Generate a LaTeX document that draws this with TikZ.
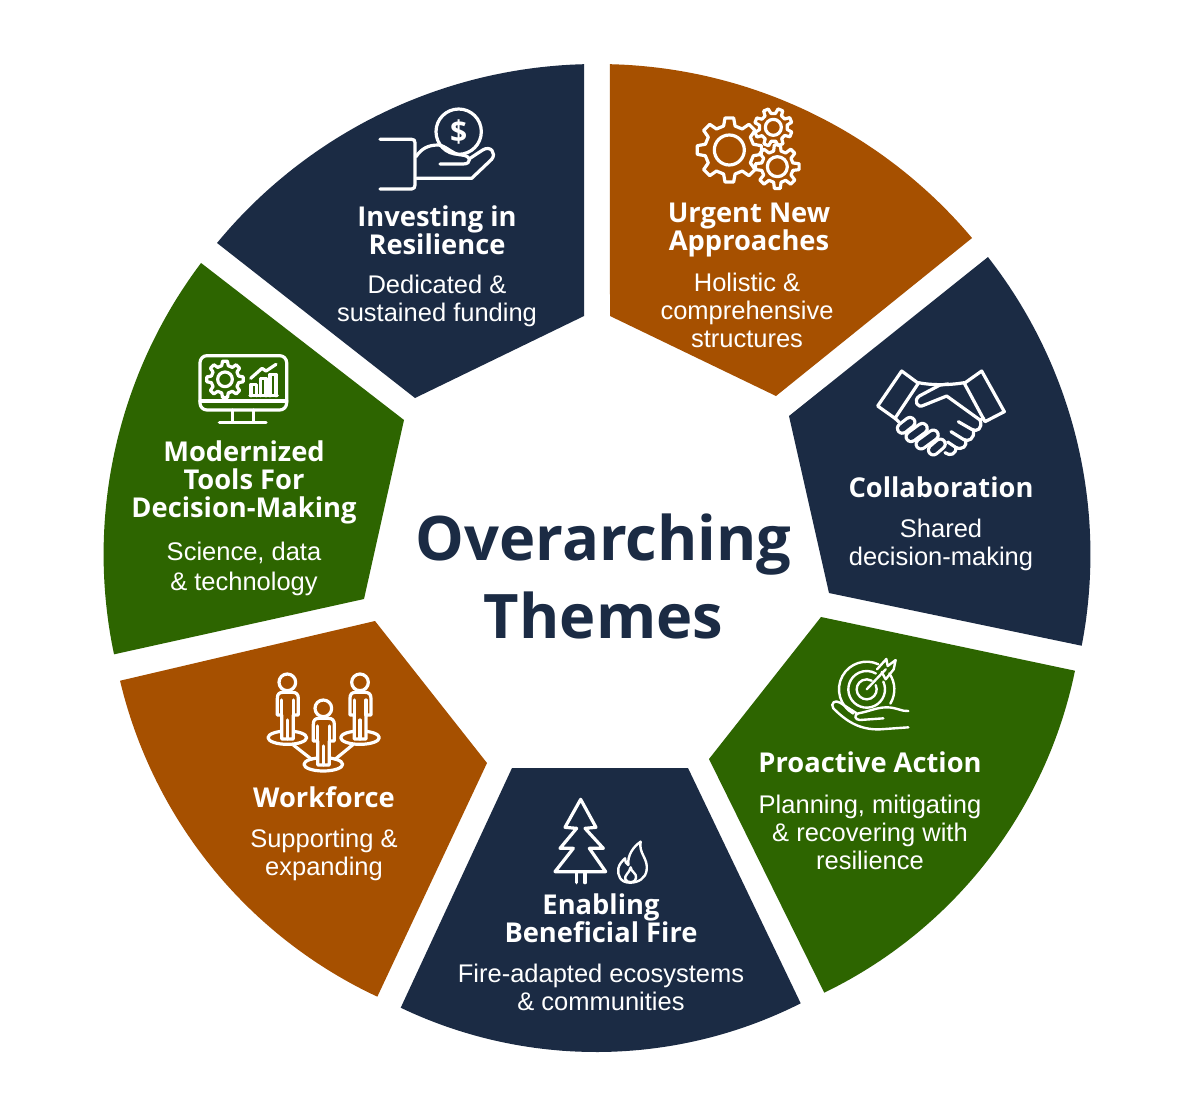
\documentclass[tikz,border=0pt]{standalone}
\usepackage{fontspec}
\setmainfont{Liberation Sans}
\newfontfamily\headfont{Open Sans}
\usetikzlibrary{calc}
\definecolor{navy}{HTML}{1B2B44}
\definecolor{rust}{HTML}{A65000}
\definecolor{leaf}{HTML}{2D6500}
\tikzset{
  icon/.style={draw=white,line width=3.2pt,line cap=round,line join=round},
  thinicon/.style={icon,line width=2.4pt},
  head/.style={text=white,align=center,inner sep=0pt,font=\headfont\bfseries\fontsize{27.3}{28}\selectfont},
  body/.style={text=white,align=center,inner sep=0pt,font=\fontsize{25.5}{28}\selectfont},
  titletext/.style={text=navy,align=center,inner sep=0pt,font=\headfont\bfseries\fontsize{61.4}{78}\selectfont}
}
% #1 colour, #2 start angle, #3 start radius, #4 end angle, #5 end radius, #6 and #7 inner corners
\newcommand{\segm}[7]{\fill[#1] plot[domain=#2:#4,samples=60,variable=\tt,shift={(c)}]
  ({\tt}:{(1-(\tt-#2)/(#4-#2))*#3+((\tt-#2)/(#4-#2))*#5+4*((\tt-#2)/(#4-#2))*(1-(\tt-#2)/(#4-#2))*(494-(#3+#5)/2)})
  -- #6 -- #7 -- cycle;}
% #1 cx, #2 cy, #3 outer r, #4 inner r, #5 teeth, #6 hole r, #7 phase
\newcommand{\gearicon}[7]{%
  \begin{scope}[shift={(#1,#2)}]
  \pgfmathsetmacro{\pp}{360/#5}
  \draw[icon] (#7-0.30*\pp:#4)
    \foreach \ii in {1,...,#5}{
      -- ({#7+(\ii-1)*\pp-0.30*\pp}:#4)
      -- ({#7+(\ii-1)*\pp-0.17*\pp}:#3)
      -- ({#7+(\ii-1)*\pp+0.17*\pp}:#3)
      -- ({#7+(\ii-1)*\pp+0.30*\pp}:#4)
    } -- cycle;
  \draw[icon] (0,0) circle[radius=#6pt];
  \end{scope}}
\newcommand{\capsule}[4]{%
  \draw[white,line width=13pt,line cap=round] (#1,#2) -- (#3,#4);
  \draw[navy,line width=6.6pt,line cap=round] (#1,#2) -- (#3,#4);}
% person: #1 dx, #2 dy (zoom units)
\newcommand{\person}[2]{%
  \begin{scope}[shift={(#1,#2)}]
  \draw[icon] (97,52) circle[radius=25pt];
  \draw[icon,fill=rust] (67,150) -- (67,100) .. controls (67,88) and (72,82) .. (84,82)
     -- (112,82) .. controls (124,82) and (130,88) .. (130,100) -- (130,150) -- (115,150)
     -- (115,222) -- (80,222) -- (80,150) -- cycle;
  \draw[icon] (80,105) -- (80,150) (115,105) -- (115,150) (97,165) -- (97,222);
  \end{scope}}
\begin{document}
\begin{tikzpicture}[x=1pt,y=1pt,yscale=-1]
\useasboundingbox (0,0) rectangle (1200,1114);
\fill[white] (0,0) rectangle (1200,1114);
\coordinate (c) at (597,558);
\segm{navy}{268.5}{494}{219.66}{493.6}{(415,398)}{(584,316)}
\segm{rust}{271.5}{494}{319.53}{493}{(776,396)}{(610,316)}
\segm{navy}{322.41}{493.4}{370.26}{492.6}{(829,593)}{(789,416)}
\segm{leaf}{13.27}{491.1}{62.4}{490.5}{(709,759)}{(821,617)}
\segm{navy}{65.42}{489.7}{113.58}{490.7}{(512,768)}{(688,768)}
\segm{rust}{116.6}{490.6}{165.57}{492.5}{(375,621)}{(487,763)}
\segm{leaf}{168.72}{492.5}{216.69}{493.8}{(404,420)}{(364,599)}

% titles and captions
\node[titletext] (title) at (603.5,576) {Overarching\\Themes};
\node[head] (h1) at (437,230) {Investing in\\Resilience};
\node[body] (b1) at (437,301) {Dedicated \&\\sustained funding};
\node[head] (h2) at (749,230) {Urgent New\\Approaches};
\node[body] (b2) at (747,310) {Holistic \&\\comprehensive\\structures};
\node[head] (h3) at (941,487) {Collaboration};
\node[body] (b3) at (941,545) {Shared\\decision-making};
\node[head] (h4) at (870,762) {Proactive Action};
\node[body] (b4) at (870,832) {Planning, mitigating\\\& recovering with\\resilience};
\node[head] (h5) at (601,918) {Enabling\\Beneficial Fire};
\node[body] (b5) at (601,987) {Fire-adapted ecosystems\\\& communities};
\node[head] (h6) at (324,797) {Workforce};
\node[body] (b6) at (324,855) {Supporting \&\\expanding};
\node[head] (h7) at (244,482) {Modernized\\Tools For\\Decision-Making};
\node[body,font=\fontsize{25.5}{30}\selectfont] (b7) at (244,569) {Science, data\\\& technology};

% icon 1: hand and coin
\begin{scope}[shift={(360,90)},scale=1/3]
\draw[icon] (296,125) circle[radius=68pt];
\node[text=white,inner sep=0pt,font=\headfont\bfseries\fontsize{30}{30}\selectfont] (dollar) at (296,125) {\$};
\draw[icon] (60,148) -- (155,148) .. controls (162,148) and (165,151) .. (165,158) -- (165,285)
   .. controls (165,292) and (162,297) .. (155,297) -- (60,297);
\draw[icon] (168,200) .. controls (185,175) and (205,165) .. (235,165) .. controls (255,165) and (280,195) .. (305,195)
   .. controls (335,197) and (335,222) .. (310,222) -- (240,222);
\draw[icon] (170,265) -- (335,265) -- (395,208) .. controls (410,190) and (392,165) .. (368,180) -- (330,205);
\end{scope}

% icon 2: three gears
\begin{scope}[shift={(680,95)},scale=1/3]
\gearicon{148}{165}{97}{74}{8}{45}{0}
\gearicon{280}{97}{57}{42}{8}{24}{22}
\gearicon{292}{215}{66}{48}{8}{30}{0}
\end{scope}

% icon 3: handshake
\begin{scope}[shift={(865,360)},scale=1/3]
\capsule{112}{205}{135}{187}
\capsule{138}{230}{172}{205}
\capsule{168}{252}{205}{225}
\capsule{205}{270}{226}{252}
\draw[icon] (110,33) -- (160,70) -- (90,175) -- (38,138) -- cycle;
\draw[icon] (350,33) -- (418,155) -- (360,185) -- (298,70) -- cycle;
\draw[icon] (160,68) .. controls (200,76) and (250,76) .. (298,68);
\draw[icon] (90,175) -- (103,187);
\draw[icon] (250,72) -- (225,75) -- (163,108) .. controls (145,120) and (155,148) .. (178,135) -- (245,108) -- (345,180) -- (356,175);
\draw[icon] (345,180) .. controls (355,205) and (335,218) .. (320,208) -- (280,185);
\draw[icon] (325,212) .. controls (330,235) and (310,248) .. (295,238) -- (258,215);
\draw[icon] (300,240) .. controls (310,258) and (290,272) .. (272,262) -- (248,246);
\draw[icon] (272,262) .. controls (275,282) and (255,290) .. (240,278);
\end{scope}

% icon 4: target on a hand
\begin{scope}[shift={(815,650)},scale=1/3]
\draw[thinicon] (155,118) ++(119:83) arc[start angle=119,end angle=295,radius=83pt];
\draw[thinicon] (155,118) ++(325:83) arc[start angle=325,end angle=391,radius=83pt];
\draw[thinicon] (155,118) ++(335:55) arc[start angle=335,end angle=660,radius=55pt];
\draw[thinicon] (155,118) ++(335:30) arc[start angle=335,end angle=660,radius=30pt];
\draw[thinicon] (155,118) -- (212,58);
\draw[thinicon] (186,58) -- (214,27) -- (218,48) -- (242,30) -- (236,58) -- (212,88) -- (200,66);
\draw[thinicon] (280,183) .. controls (260,185) and (245,172) .. (215,172) .. controls (185,172) and (160,185) .. (130,190)
  .. controls (115,195) and (120,210) .. (135,210) -- (205,205);
\draw[thinicon] (280,232) -- (195,238) .. controls (135,240) and (95,215) .. (55,175) .. controls (45,160) and (60,148) .. (75,158) -- (125,190);
\end{scope}

% icon 5: tree and flame
\begin{scope}[shift={(540,790)},scale=1/3]
\draw[icon] (122,28) -- (168,112) -- (135,115) -- (190,175) -- (148,175) -- (197,245) -- (45,245)
   -- (100,175) -- (60,175) -- (110,115) -- (75,112) -- cycle;
\draw[icon] (110,250) -- (110,278) (135,250) -- (135,278);
\draw[thinicon] (302,155) .. controls (295,190) and (325,205) .. (320,240) .. controls (317,265) and (295,278) .. (270,278)
   .. controls (240,278) and (232,255) .. (235,235) .. controls (238,222) and (245,215) .. (255,205)
   .. controls (255,215) and (258,222) .. (265,225) .. controls (262,195) and (280,170) .. (302,155);
\draw[thinicon] (272,232) .. controls (272,245) and (292,250) .. (288,265) .. controls (285,280) and (262,280) .. (256,268)
   .. controls (252,255) and (268,250) .. (272,232);
\end{scope}

% icon 6: three people
\begin{scope}[shift={(255,665)},scale=1/3]
\draw[icon] (97,218) ellipse[x radius=58pt,y radius=20pt];
\draw[icon] (315,218) ellipse[x radius=58pt,y radius=20pt];
\draw[icon] (205,298) ellipse[x radius=58pt,y radius=20pt];
\draw[icon] (115,240) -- (170,283) (295,238) -- (240,283);
\person{0}{0}
\person{218}{0}
\person{108}{78}
\end{scope}

% icon 7: monitor
\begin{scope}[shift={(190,345)},scale=1/3]
\draw[icon,rounded corners=7pt] (30,32) rectangle (290,195);
\draw[icon] (30,168) -- (290,168);
\draw[icon] (127,195) -- (127,232) (190,195) -- (190,232) (88,232) -- (228,232);
\gearicon{105}{103}{55}{42}{8}{22}{0}
\draw[icon] (180,152) -- (262,152);
\draw[icon] (183,152) -- (183,118) -- (200,118) -- (200,152);
\draw[icon] (211,152) -- (211,100) -- (228,100) -- (228,152);
\draw[icon] (240,152) -- (240,88) -- (258,88) -- (258,152);
\draw[icon] (182,100) -- (216,70) -- (228,78) -- (258,58);
\end{scope}
\end{tikzpicture}
\end{document}
